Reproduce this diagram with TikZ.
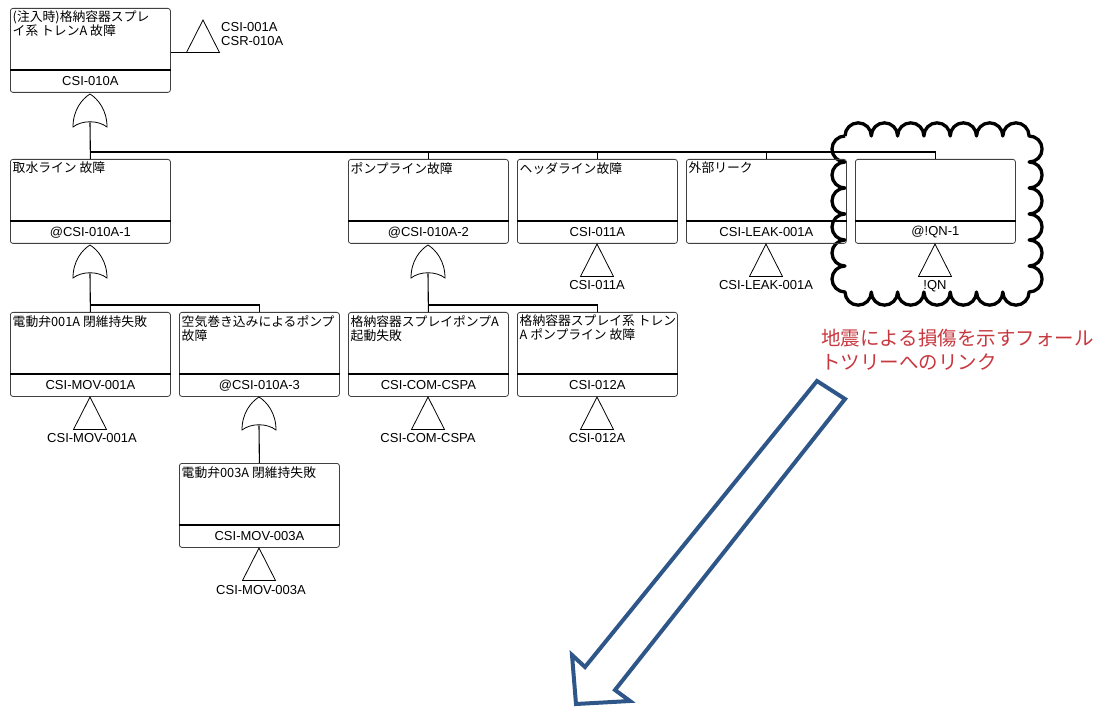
\documentclass[tikz,border=0pt]{standalone}
\usepackage{fontspec}
\setmainfont{Liberation Sans}
\newfontfamily\jp{Noto Sans CJK JP}
\usetikzlibrary{calc}
\definecolor{boxline}{gray}{0.25}
\definecolor{linkred}{RGB}{200,55,62}
\definecolor{arrowblue}{RGB}{46,86,136}
\tikzset{
  boxst/.style={draw=boxline, line width=0.8pt, rounded corners=2.5pt, minimum width=160pt, minimum height=84pt, inner sep=0pt, anchor=north west},
  divst/.style={draw=black, line width=1.1pt},
  titlest/.style={font=\jp\fontsize{12.8}{14}\selectfont, inner sep=0pt, anchor=north west, align=left},
  idst/.style={font=\fontsize{13}{15}\selectfont, inner sep=0pt},
  lblst/.style={font=\fontsize{13}{15}\selectfont, inner sep=0pt},
  conn/.style={draw=black, line width=1.1pt},
  gatest/.style={draw=black, line width=0.8pt, fill=white},
  trist/.style={draw=black, line width=0.8pt},
}
\newcommand\ftbox[5]{%
  \node[boxst] (#1) at (#2,-#3) {};
  \draw[divst] ([yshift=-62pt]#1.north west) -- ([yshift=-62pt]#1.north east);
  \node[titlest] (#1-t) at ([xshift=2.5pt,yshift=-3pt]#1.north west) {#4};
  \node[idst] (#1-id) at ([yshift=-73.5pt]#1.north) {#5};
}
\newcommand\orgate[3]{%
  \coordinate (#1) at (#2,-#3);
  \coordinate (#1-in) at (#2,-#3-28.3);
  \draw[gatest] (#2-17,-#3-33) .. controls (#2-17,-#3-16) and (#2-8,-#3-5) .. (#2,-#3)
     .. controls (#2+8,-#3-5) and (#2+17,-#3-16) .. (#2+17,-#3-33)
     .. controls (#2+8,-#3-26) and (#2-8,-#3-26) .. cycle;
}
\newcommand\trig[3]{%
  \coordinate (#1) at (#2,-#3);
  \coordinate (#1-bl) at (#2-16.5,-#3-32.5);
  \coordinate (#1-br) at (#2+16.5,-#3-32.5);
  \draw[trist] (#1) -- (#1-bl) -- (#1-br) -- cycle;
}
\begin{document}
\begin{tikzpicture}[x=1pt,y=1pt]
\useasboundingbox (0,0) rectangle (1110,-708);

% cloud around the link event
\draw[line width=3.3pt, line join=round]
  (845,-136)
  \foreach \i in {1,...,7} { arc[start angle=180, end angle=0, radius=13.15pt] }
  \foreach \i in {1,...,6} { arc[start angle=90, end angle=-90, radius=13pt] }
  \foreach \i in {1,...,7} { arc[start angle=0, end angle=-180, radius=13.15pt] }
  \foreach \i in {1,...,6} { arc[start angle=270, end angle=90, radius=13pt] };

% boxes
\ftbox{top}{10}{8}{(注入時)格納容器スプレ\\イ系 トレンA 故障}{CSI-010A}
\ftbox{ra}{10}{159}{取水ライン 故障}{@CSI-010A-1}
\ftbox{rb}{348}{159}{ポンプライン故障}{@CSI-010A-2}
\ftbox{rc}{517}{159}{ヘッダライン故障}{CSI-011A}
\ftbox{rd}{686}{159}{外部リーク}{CSI-LEAK-001A}
\ftbox{re}{855}{159}{}{@!QN-1}
\ftbox{sa}{10}{312}{電動弁001A 閉維持失敗}{CSI-MOV-001A}
\ftbox{sb}{179}{312}{空気巻き込みによるポンプ\\故障}{@CSI-010A-3}
\ftbox{sc}{348}{312}{格納容器スプレイポンプA\\起動失敗}{CSI-COM-CSPA}
\ftbox{sd}{517}{312}{格納容器スプレイ系 トレン\\A ポンプライン 故障}{CSI-012A}
\ftbox{ua}{179}{463}{電動弁003A 閉維持失敗}{CSI-MOV-003A}

% gates
\orgate{g1}{90}{94}
\orgate{g2}{90}{245}
\orgate{g3}{428}{245}
\orgate{g4}{259}{397}

% bus coordinates
\coordinate (b1) at (90,-152);
\coordinate (b2) at (90,-305);
\coordinate (b3) at (428,-305);

% connectors
\draw[conn] (g1-in) -- (ra.north);
\foreach \n in {rb,rc,rd,re} \draw[conn] (b1) -| (\n.north);
\draw[conn] (g2-in) -- (sa.north);
\draw[conn] (b2) -| (sb.north);
\draw[conn] (g3-in) -- (sc.north);
\draw[conn] (b3) -| (sd.north);
\draw[conn] (g4-in) -- (ua.north);

% transfer triangles
\trig{t0}{203}{20}
\draw[conn] (top.north east |- t0-bl) -- (t0-bl);
\node[lblst, anchor=west] (t0-l1) at (221,-27) {CSI-001A};
\node[lblst, anchor=west] (t0-l2) at (221,-41) {CSR-010A};

\trig{tc}{597}{244}
\node[lblst] (tc-l) at (597,-285) {CSI-011A};
\trig{td}{766}{244}
\node[lblst] (td-l) at (766,-285) {CSI-LEAK-001A};
\trig{te}{935}{244}
\node[lblst] (te-l) at (935,-286) {!QN};
\trig{ta}{90}{397}
\node[lblst] (ta-l) at (92,-438) {CSI-MOV-001A};
\trig{tsc}{428}{397}
\node[lblst] (tsc-l) at (428,-438) {CSI-COM-CSPA};
\trig{tsd}{597}{397}
\node[lblst] (tsd-l) at (597,-438) {CSI-012A};
\trig{tu}{259}{548}
\node[lblst] (tu-l) at (261,-590) {CSI-MOV-003A};

% red note
\node[font=\jp\fontsize{19.5}{23.5}\selectfont, text=linkred, anchor=north west, align=left, inner sep=0pt] (note) at (821,-329) {地震による損傷を示すフォール\\トツリーへのリンク};

% big hollow arrow
\draw[draw=arrowblue, line width=4pt, line join=miter]
  (817,-381) -- (845,-399) -- (615,-690) -- (630,-701) -- (576,-704) -- (572,-655) -- (585,-667) -- cycle;
\end{tikzpicture}
\end{document}
